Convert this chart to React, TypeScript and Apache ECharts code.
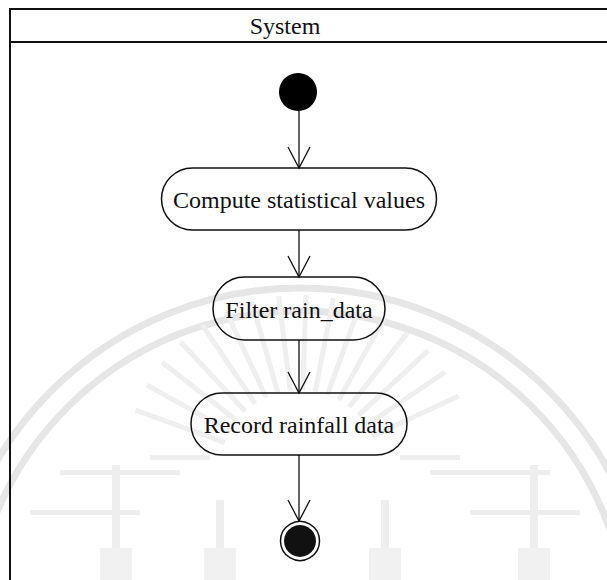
import React, { useEffect, useRef } from "react";
import * as echarts from "echarts";

// ---- content ----
const laneTitle = "System";
const activityLabels = ["Compute statistical values", "Filter rain_data", "Record rainfall data"];

// ---- layout (diagram coordinates, 1 unit = 1px) ----
const flowX = 299;
const activityCenterY = [199, 308.5, 424];
const activityWidth = [275, 172, 216];
const activityHeight = [62, 63, 62];
const startNode = [298, 92];
const endNode = [300, 541];
const edgeFromY = [111, 230, 340, 455];
const edgeToY = [168, 277, 393, 521];

const FONT = '"Liberation Serif", "Times New Roman", serif';
const INK = "#111";

function buildWatermark() {
  const els: any[] = [];
  [352, 329].forEach((r) =>
    els.push({
      type: "arc",
      z: -10,
      silent: true,
      shape: { cx: 300, cy: 640, r, startAngle: Math.PI, endAngle: Math.PI * 2 },
      style: { stroke: "#e6e6e6", lineWidth: 7, fill: "none" },
    })
  );
  for (let deg = 200; deg <= 340; deg += 9) {
    const a = (deg * Math.PI) / 180;
    const cx = 300, cy = 470;
    els.push({
      type: "line",
      z: -10,
      silent: true,
      shape: {
        x1: cx + 80 * Math.cos(a),
        y1: cy + 80 * Math.sin(a),
        x2: cx + 175 * Math.cos(a),
        y2: cy + 175 * Math.sin(a),
      },
      style: { stroke: "#efefef", lineWidth: 5 },
    });
  }
  // towers
  [116, 534, 220, 385].forEach((x, i) => {
    const top = i < 2 ? 465 : 500;
    els.push({
      type: "rect",
      z: -10,
      silent: true,
      shape: { x: x - 4, y: top, width: 8, height: 580 - top },
      style: { fill: "#eeeeee" },
    });
    els.push({
      type: "rect",
      z: -10,
      silent: true,
      shape: { x: x - 16, y: 548, width: 32, height: 32 },
      style: { fill: "#f1f1f1" },
    });
  });
  [
    [60, 470, 120],
    [430, 470, 120],
    [30, 510, 110],
    [470, 510, 110],
    [150, 455, 60],
    [400, 455, 60],
  ].forEach(([x, y, w]) =>
    els.push({
      type: "rect",
      z: -10,
      silent: true,
      shape: { x, y, width: w, height: 5 },
      style: { fill: "#eeeeee" },
    })
  );
  return els;
}

export default function App() {
  const ref = useRef<HTMLDivElement>(null);
  useEffect(() => {
    if (!ref.current) return;
    const chart = echarts.init(ref.current, undefined, { renderer: "svg" });

    const option: any = {
      animation: false,
      backgroundColor: "#ffffff",
      grid: { left: 0, right: 0, top: 0, bottom: 0 },
      xAxis: { type: "value", min: 0, max: 607, show: false },
      yAxis: { type: "value", min: 0, max: 580, inverse: true, show: false },
      graphic: [
        ...buildWatermark(),
        { type: "line", shape: { x1: 9, y1: 9, x2: 607, y2: 9 }, style: { stroke: INK, lineWidth: 2 } },
        { type: "line", shape: { x1: 9, y1: 42, x2: 607, y2: 42 }, style: { stroke: INK, lineWidth: 2 } },
        { type: "line", shape: { x1: 10, y1: 8, x2: 10, y2: 580 }, style: { stroke: INK, lineWidth: 2 } },
        {
          type: "text",
          style: {
            text: laneTitle,
            x: 285,
            y: 26,
            align: "center",
            verticalAlign: "middle",
            fontSize: 24,
            fontFamily: FONT,
            fill: INK,
          },
        },
      ],
      series: [
        {
          type: "custom",
          name: "edges",
          data: edgeFromY.map((f, i) => [flowX, f, edgeToY[i]]),
          renderItem: (_p: any, api: any) => {
            const a = api.coord([api.value(0), api.value(1)]);
            const b = api.coord([api.value(0), api.value(2)]);
            return {
              type: "group",
              children: [
                {
                  type: "line",
                  shape: { x1: a[0], y1: a[1], x2: b[0], y2: b[1] },
                  style: { stroke: INK, lineWidth: 1.3 },
                },
                {
                  type: "polyline",
                  shape: {
                    points: [
                      [b[0] - 11, b[1] - 21],
                      [b[0], b[1]],
                      [b[0] + 11, b[1] - 21],
                    ],
                  },
                  style: { stroke: INK, lineWidth: 1.3, fill: "none" },
                },
              ],
            };
          },
        },
        {
          type: "custom",
          name: "activities",
          data: activityLabels.map((_, i) => [flowX, activityCenterY[i], activityWidth[i], activityHeight[i]]),
          renderItem: (p: any, api: any) => {
            const c = api.coord([api.value(0), api.value(1)]);
            const s = api.size([api.value(2), api.value(3)]);
            return {
              type: "group",
              children: [
                {
                  type: "rect",
                  shape: { x: c[0] - s[0] / 2, y: c[1] - s[1] / 2, width: s[0], height: s[1], r: s[1] / 2 },
                  style: { stroke: INK, lineWidth: 1.5, fill: "none" },
                },
                {
                  type: "text",
                  style: {
                    text: activityLabels[p.dataIndex],
                    x: c[0],
                    y: c[1] + 1,
                    align: "center",
                    verticalAlign: "middle",
                    fontSize: 24,
                    fontFamily: FONT,
                    fill: INK,
                  },
                },
              ],
            };
          },
        },
        {
          type: "scatter",
          name: "start",
          data: [startNode],
          symbol: "circle",
          symbolSize: 38,
          itemStyle: { color: "#000", opacity: 1 },
        },
        {
          type: "custom",
          name: "end",
          data: [endNode],
          renderItem: (_p: any, api: any) => {
            const c = api.coord([api.value(0), api.value(1)]);
            return {
              type: "group",
              children: [
                {
                  type: "circle",
                  shape: { cx: c[0], cy: c[1], r: 19.5 },
                  style: { fill: "#fff", stroke: INK, lineWidth: 1.5 },
                },
                {
                  type: "circle",
                  shape: { cx: c[0], cy: c[1], r: 16 },
                  style: { fill: "#111" },
                },
              ],
            };
          },
        },
      ],
    };
    chart.setOption(option);
    return () => chart.dispose();
  }, []);
  return (
    <div
      ref={ref}
      style={{ position: "fixed", left: 0, top: 0, width: 607, height: 580, background: "#fff" }}
    />
  );
}
